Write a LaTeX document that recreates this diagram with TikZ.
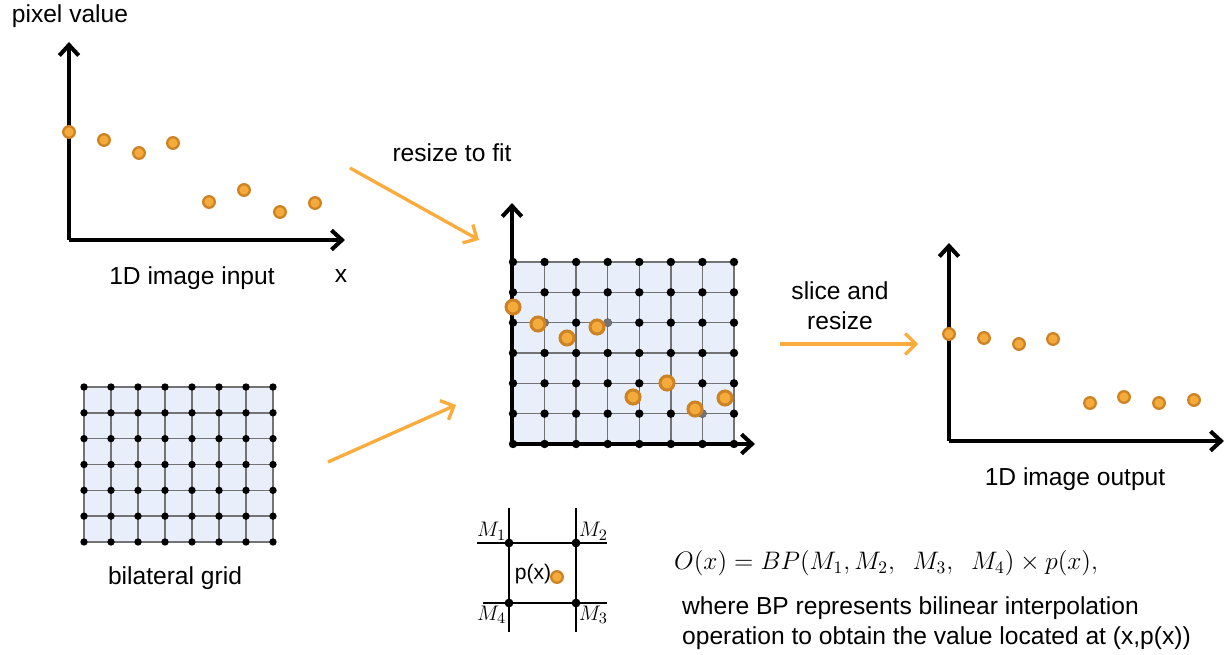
\documentclass[tikz,border=0pt]{standalone}
\usepackage{fontspec}
\setmainfont{Liberation Sans}
\usetikzlibrary{arrows.meta, positioning}
\definecolor{dotring}{RGB}{205,130,35}
\definecolor{dotfill}{RGB}{245,170,60}
\definecolor{flowarrow}{RGB}{252,172,60}
\definecolor{gridfill}{RGB}{232,238,250}
\tikzset{
  axis/.style={line width=2.3pt, -{Straight Barb[length=6pt,width=11pt]}},
  flow/.style={draw=flowarrow, line width=1.9pt, -{Straight Barb[length=6pt,width=12pt]}},
  sample/.style={circle, draw=dotring, fill=dotfill, line width=1.3pt, inner sep=0pt, minimum size=6.6pt},
  bigsample/.style={sample, line width=1.7pt, minimum size=8pt},
  knot/.style={circle, fill=black, inner sep=0pt, minimum size=4.8pt},
  grayknot/.style={knot, fill=black!55},
  gline/.style={draw=black!55, line width=0.8pt},
  cline/.style={draw=black, line width=0.8pt},
  lbl/.style={font=\fontsize{14}{17}\selectfont, align=center},
  mlbl/.style={font=\fontsize{13}{15}\selectfont, inner sep=1.5pt}
}
\begin{document}
\begin{tikzpicture}[x=0.02cm, y=-0.02cm]
  \useasboundingbox (0,0) rectangle (1227,655);

  % input signal
  \coordinate (inO) at (69,240);
  \coordinate (inY) at (69,42);
  \coordinate (inX) at (345,240);
  \draw[axis] (inO) -- (inY);
  \draw[axis] (inO) -- (inX);
  \foreach \x/\y [count=\i] in {69/132, 104/140, 139/153, 173/143, 209/202, 244/190, 280/212, 315/203}
    \node[sample] (in\i) at (\x,\y) {};
  \node[lbl] (pv) at (70,16) {pixel value};
  \node[lbl] (inlbl) at (192,278) {1D image input};
  \node[lbl] (xlbl) at (341,276) {x};

  % bilateral grid
  \fill[gridfill] (84,387) rectangle (273,542);
  \foreach \i in {0,...,7}
    \draw[gline] ({84+27*\i},387) -- ({84+27*\i},542);
  \foreach \j in {0,...,6}
    \draw[gline] (84,{387+25.83*\j}) -- (273,{387+25.83*\j});
  \foreach \i in {0,...,7}
    \foreach \j in {0,...,6}
      \node[knot, minimum size=4.2pt] (bg\i\j) at ({84+27*\i},{387+25.83*\j}) {};
  \node[lbl] (bglbl) at (175,578) {bilateral grid};

  % fitted grid
  \fill[gridfill] (513,262) rectangle (734,444);
  \foreach \i in {0,...,7}
    \draw[gline] ({513+31.57*\i},262) -- ({513+31.57*\i},444);
  \foreach \j in {0,...,6}
    \draw[gline] (513,{262+30.33*\j}) -- (734,{262+30.33*\j});
  \foreach \i in {0,...,7}
    \foreach \j in {0,...,6}
      \node[knot] (fg\i\j) at ({513+31.57*\i},{262+30.33*\j}) {};
  \foreach \i/\j in {1/2, 3/2, 5/4, 6/5}
    \node[grayknot] at (fg\i\j) {};
  \coordinate (fgO) at (512,444);
  \coordinate (fgY) at (512,203);
  \coordinate (fgX) at (755,444);
  \draw[axis] (fgO) -- (fgY);
  \draw[axis] (fgO) -- (fgX);
  \foreach \x/\y [count=\i] in {513/307, 538/324, 567/338, 597/327, 633/397, 667/383, 695/409, 725/398}
    \node[bigsample] (fs\i) at (\x,\y) {};

  % output signal
  \coordinate (outO) at (949,441);
  \coordinate (outY) at (949,243);
  \coordinate (outX) at (1224,441);
  \draw[axis] (outO) -- (outY);
  \draw[axis] (outO) -- (outX);
  \foreach \x/\y [count=\i] in {949/334, 984/338, 1019/344, 1053/339, 1090/403, 1124/397, 1159/403, 1194/400}
    \node[sample] (out\i) at (\x,\y) {};
  \node[lbl] (outlbl) at (1075,479) {1D image output};

  % flow arrows
  \coordinate (rsA) at (350,168);
  \coordinate (rsB) at (479,240);
  \coordinate (bgA) at (328,462);
  \coordinate (bgB) at (456,405);
  \coordinate (slA) at (780,344);
  \coordinate (slB) at (918,344);
  \draw[flow] (rsA) -- (rsB);
  \draw[flow] (bgA) -- (bgB);
  \draw[flow] (slA) -- (slB);
  \node[lbl] (rslbl) at (452,153) {resize to fit};
  \node[lbl] (sllbl) at (840,306) {slice and\\resize};

  % one cell
  \draw[cline] (509,508) -- (509,632);
  \draw[cline] (576,508) -- (576,632);
  \draw[cline] (477,543) -- (607,543);
  \draw[cline] (483,603) -- (607,603);
  \node[knot, minimum size=5pt] (m1) at (509,543) {};
  \node[knot, minimum size=5pt] (m2) at (576,543) {};
  \node[knot, minimum size=5pt] (m3) at (576,603) {};
  \node[knot, minimum size=5pt] (m4) at (509,603) {};
  \node[mlbl, above left] at (m1) {$M_1$};
  \node[mlbl, above right] at (m2) {$M_2$};
  \node[mlbl, below right] at (m3) {$M_3$};
  \node[mlbl, below left] at (m4) {$M_4$};
  \node[sample] (px) at (557,577) {};
  \node[font=\fontsize{12}{14}\selectfont, inner sep=1pt] (pxlbl) at (533,574) {p(x)};

  % formula
  \node[lbl, anchor=west] (eq) at (668,563) {$O(x) = BP(M_1, M_2,\ \ M_3,\ \ M_4) \times p(x),$};
  \node[lbl, anchor=west, align=left] (eqtxt) at (676,623) {where BP represents bilinear interpolation\\operation to obtain the value located at (x,p(x))};
\end{tikzpicture}
\end{document}
